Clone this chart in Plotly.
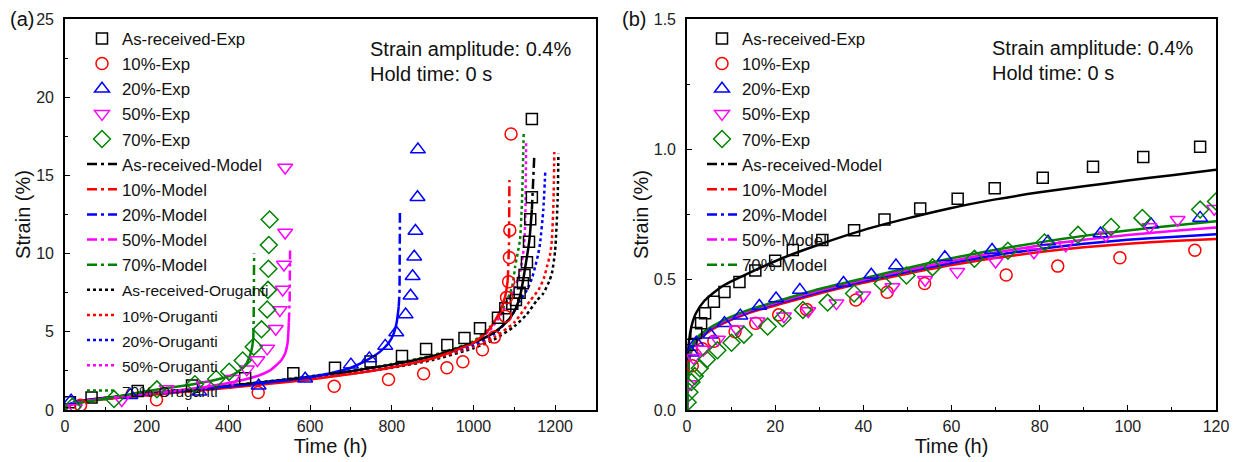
import plotly.graph_objects as go

# ---------------- Panel (a) data: Time (h) vs Strain (%) ----------------
# Experimental points
a_ar_exp_x = [12, 65, 178, 311, 441, 559, 661, 748, 825, 884, 936, 978, 1016, 1060, 1078, 1095, 1104, 1113, 1121, 1125, 1131, 1136, 1139, 1143, 1143]
a_ar_exp_y = [0.5, 0.8, 1.22, 1.56, 2.03, 2.35, 2.7, 3.1, 3.45, 3.9, 4.16, 4.6, 5.22, 5.9, 6.5, 6.8, 7.03, 7.5, 8.1, 8.63, 9.44, 10.76, 12.19, 13.6, 18.6]
a_10_exp_x = [38, 224, 473, 659, 792, 878, 935, 974, 1022, 1051, 1078, 1081, 1086, 1088, 1089, 1092]
a_10_exp_y = [0.3, 0.66, 1.12, 1.52, 1.95, 2.32, 2.7, 3.08, 3.85, 4.66, 6.0, 7.2, 8.2, 9.75, 11.5, 17.65]
a_20_exp_x = [15, 160, 329, 474, 588, 700, 745, 784, 811, 834, 846, 851, 855, 858, 863, 864]
a_20_exp_y = [0.6, 0.95, 1.16, 1.55, 2.0, 2.9, 3.3, 4.1, 4.95, 6.1, 7.3, 8.55, 9.8, 11.45, 13.6, 16.65]
a_50_exp_x = [24, 139, 249, 340, 410, 445, 471, 495, 516, 526, 533, 536, 539, 539]
a_50_exp_y = [0.12, 0.64, 1.35, 1.6, 2.0, 2.6, 3.2, 3.94, 5.2, 6.4, 7.7, 9.3, 11.35, 15.5]
a_70_exp_x = [18, 120, 225, 318, 370, 402, 435, 462, 481, 495, 497, 498, 499, 501]
a_70_exp_y = [0.2, 0.7, 1.32, 1.65, 1.98, 2.45, 3.17, 4.05, 5.16, 6.43, 7.68, 9.03, 10.55, 12.18]

# Model curves (body + vertical tail)
a_ar_mod_x = [0, 5, 20, 50, 100, 200, 300, 400, 500, 600, 700, 800, 900, 1000, 1050, 1080, 1100, 1115, 1127, 1137, 1143]
a_ar_mod_y = [0, 0.25, 0.45, 0.62, 0.78, 1.05, 1.3, 1.55, 1.82, 2.12, 2.48, 2.9, 3.45, 4.3, 4.95, 5.6, 6.3, 7.4, 9.16, 10.9, 12.8]
a_ar_tail_x = [1143, 1147, 1149]
a_ar_tail_y = [12.8, 14.7, 16.3]
a_10_mod_x = [0, 5, 20, 50, 100, 200, 300, 400, 500, 600, 700, 800, 900, 1000, 1040, 1065, 1078, 1084]
a_10_mod_y = [0, 0.2, 0.38, 0.55, 0.7, 0.95, 1.18, 1.42, 1.68, 1.95, 2.3, 2.72, 3.3, 4.3, 5.2, 6.3, 7.3, 8.3]
a_10_tail_x = [1084, 1087, 1088]
a_10_tail_y = [8.3, 10.5, 14.7]
a_20_mod_x = [0, 5, 20, 50, 100, 200, 300, 400, 500, 600, 650, 700, 740, 770, 792, 805, 812, 817]
a_20_mod_y = [0, 0.28, 0.45, 0.6, 0.75, 1.0, 1.25, 1.5, 1.78, 2.1, 2.35, 2.7, 3.2, 3.7, 4.26, 4.9, 5.6, 6.6]
a_20_tail_x = [817, 819, 820]
a_20_tail_y = [6.6, 7.5, 12.6]
a_50_mod_x = [0, 5, 20, 50, 100, 200, 300, 350, 400, 440, 478, 500, 518, 530, 539, 545, 548]
a_50_mod_y = [0, 0.25, 0.42, 0.58, 0.74, 1.02, 1.32, 1.5, 1.72, 1.95, 2.24, 2.5, 2.88, 3.2, 3.62, 4.3, 5.6]
a_50_tail_x = [548, 550, 551]
a_50_tail_y = [5.6, 7.0, 10.2]
a_70_mod_x = [0, 5, 20, 69, 120, 192, 250, 314, 350, 380, 410, 429, 445, 453, 458, 461]
a_70_mod_y = [0, 0.25, 0.4, 0.6, 0.82, 1.17, 1.4, 1.65, 1.82, 2.0, 2.25, 2.56, 3.0, 3.5, 4.0, 4.6]
a_70_tail_x = [461, 462, 463]
a_70_tail_y = [4.6, 6.0, 10.0]

# Oruganti curves
a_ar_oru_x = [0, 5, 20, 50, 100, 200, 300, 400, 500, 600, 700, 800, 900, 1000, 1050, 1100, 1130, 1155, 1171, 1185, 1192, 1200, 1206, 1208]
a_ar_oru_y = [0, 0.22, 0.4, 0.56, 0.72, 0.97, 1.2, 1.45, 1.72, 2.0, 2.32, 2.7, 3.2, 3.95, 4.5, 5.35, 6.1, 7.0, 7.46, 8.2, 8.74, 10.2, 13.4, 16.4]
a_10_oru_x = [0, 5, 20, 50, 100, 200, 300, 400, 500, 600, 700, 800, 900, 1000, 1050, 1100, 1139, 1159, 1172, 1180, 1188, 1192, 1196, 1198]
a_10_oru_y = [0, 0.2, 0.38, 0.54, 0.7, 0.95, 1.19, 1.45, 1.72, 2.02, 2.36, 2.76, 3.28, 4.05, 4.65, 5.6, 7.0, 7.67, 8.4, 9.16, 10.0, 10.87, 13.4, 16.5]
a_20_oru_x = [0, 5, 20, 50, 100, 200, 300, 400, 500, 600, 700, 800, 900, 1000, 1050, 1090, 1114, 1131, 1143, 1151, 1158, 1163, 1171, 1176]
a_20_oru_y = [0, 0.24, 0.42, 0.58, 0.74, 1.0, 1.24, 1.5, 1.78, 2.08, 2.42, 2.82, 3.36, 4.15, 4.85, 5.9, 7.0, 7.67, 8.4, 9.16, 9.9, 10.66, 12.8, 15.35]
a_50_oru_x = [0, 5, 20, 50, 100, 200, 300, 400, 500, 600, 700, 800, 900, 1000, 1040, 1065, 1086, 1102, 1112, 1118, 1124, 1127, 1129]
a_50_oru_y = [0, 0.25, 0.43, 0.6, 0.76, 1.02, 1.27, 1.53, 1.82, 2.12, 2.47, 2.88, 3.42, 4.3, 5.1, 6.0, 7.0, 7.9, 8.6, 9.4, 10.5, 12.5, 17.2]
a_70_oru_x = [0, 5, 20, 50, 100, 200, 300, 400, 500, 600, 700, 800, 900, 1000, 1040, 1065, 1082, 1095, 1102, 1108, 1114, 1119, 1123]
a_70_oru_y = [0, 0.26, 0.44, 0.61, 0.78, 1.05, 1.3, 1.56, 1.85, 2.16, 2.52, 2.94, 3.5, 4.4, 5.3, 6.2, 7.0, 7.9, 9.16, 10.0, 10.9, 13.5, 17.7]

# ---------------- Panel (b) data: first 120 h ----------------
b_ar_exp_x = [1.0, 2.1, 3.2, 4.1, 6.1, 8.5, 11.9, 15.5, 20.0, 24.0, 30.7, 37.9, 44.8, 52.9, 61.4, 69.8, 80.7, 92.1, 103.5, 116.4]
b_ar_exp_y = [0.25, 0.295, 0.333, 0.371, 0.415, 0.453, 0.491, 0.535, 0.573, 0.614, 0.652, 0.69, 0.731, 0.773, 0.81, 0.851, 0.891, 0.933, 0.971, 1.01]
b_10_exp_x = [1.2, 3.5, 6.1, 10.9, 15.6, 20.8, 27.1, 38.3, 45.4, 53.9, 72.4, 84.1, 98.2, 115.2]
b_10_exp_y = [0.17, 0.235, 0.264, 0.3, 0.333, 0.365, 0.386, 0.422, 0.452, 0.485, 0.518, 0.552, 0.584, 0.613]
b_20_exp_x = [1.0, 2.1, 5.3, 8.5, 12.1, 16.4, 20.2, 25.6, 35.5, 41.8, 47.4, 58.5, 69.2, 81.9, 93.8, 105.3, 116.4]
b_20_exp_y = [0.22, 0.258, 0.289, 0.333, 0.362, 0.399, 0.428, 0.46, 0.487, 0.519, 0.554, 0.586, 0.614, 0.646, 0.677, 0.712, 0.737]
b_50_exp_x = [0.5, 1.5, 3.7, 7.0, 11.3, 16.0, 22.0, 27.5, 33.9, 40.0, 46.6, 54.0, 61.3, 70.0, 78.7, 85.9, 95.0, 104.9, 111.3, 119.6]
b_50_exp_y = [0.1, 0.2, 0.232, 0.27, 0.31, 0.34, 0.36, 0.38, 0.41, 0.44, 0.472, 0.5, 0.53, 0.57, 0.605, 0.632, 0.67, 0.702, 0.73, 0.772]
b_70_exp_x = [0.15, 0.55, 1.0, 1.75, 2.9, 4.5, 6.9, 10.1, 12.9, 18.3, 21.7, 26.3, 31.9, 37.9, 44.4, 49.8, 55.7, 65.2, 72.8, 81.1, 88.7, 96.2, 103.3, 116.4, 120.0]
b_70_exp_y = [0.03, 0.068, 0.107, 0.13, 0.16, 0.194, 0.229, 0.258, 0.289, 0.32, 0.352, 0.384, 0.412, 0.447, 0.485, 0.516, 0.548, 0.58, 0.611, 0.643, 0.672, 0.702, 0.737, 0.769, 0.8]

b_mod_x = [0, 0.2, 0.5, 1, 2, 4, 8, 14, 22, 30, 40, 50, 60, 70, 80, 90, 100, 110, 120]
b_ar_mod_y = [0, 0.2, 0.27, 0.32, 0.37, 0.42, 0.475, 0.525, 0.585, 0.635, 0.69, 0.735, 0.775, 0.808, 0.835, 0.858, 0.88, 0.901, 0.922]
b_10_mod_y = [0, 0.12, 0.19, 0.225, 0.26, 0.29, 0.33, 0.372, 0.41, 0.447, 0.488, 0.523, 0.556, 0.583, 0.606, 0.624, 0.638, 0.648, 0.656]
b_20_mod_y = [0, 0.12, 0.2, 0.232, 0.266, 0.296, 0.335, 0.376, 0.416, 0.453, 0.494, 0.53, 0.564, 0.594, 0.618, 0.638, 0.653, 0.664, 0.674]
b_50_mod_y = [0, 0.12, 0.2, 0.235, 0.27, 0.3, 0.338, 0.38, 0.42, 0.458, 0.5, 0.537, 0.572, 0.604, 0.631, 0.653, 0.671, 0.687, 0.70]
b_70_mod_y = [0, 0.12, 0.2, 0.237, 0.272, 0.302, 0.342, 0.384, 0.425, 0.464, 0.505, 0.545, 0.582, 0.615, 0.643, 0.668, 0.689, 0.707, 0.724]

names = ["As-received", "10%", "20%", "50%", "70%"]
colors = ["#000000", "#ff0000", "#0000ff", "#ff00ff", "#008000"]
symbols = ["square-open", "circle-open", "triangle-up-open", "triangle-down-open", "diamond-open"]
msizes = [11, 12, 13, 13, 13]

FONT = "Arial, Liberation Sans, sans-serif"
DASHDOT = "10px,4px,3px,4px"
LW = 2.5
W, H = 1239, 462
OFF = 8  # the page body adds an 8 px margin around the figure


def px_x(v):
    return (v - OFF) / W


def px_y(v):
    return 1 - (v - OFF) / H


fig = go.Figure()

a_exp = [(a_ar_exp_x, a_ar_exp_y), (a_10_exp_x, a_10_exp_y), (a_20_exp_x, a_20_exp_y),
         (a_50_exp_x, a_50_exp_y), (a_70_exp_x, a_70_exp_y)]
a_mod = [(a_ar_mod_x, a_ar_mod_y, a_ar_tail_x, a_ar_tail_y), (a_10_mod_x, a_10_mod_y, a_10_tail_x, a_10_tail_y),
         (a_20_mod_x, a_20_mod_y, a_20_tail_x, a_20_tail_y), (a_50_mod_x, a_50_mod_y, a_50_tail_x, a_50_tail_y),
         (a_70_mod_x, a_70_mod_y, a_70_tail_x, a_70_tail_y)]
a_oru = [(a_ar_oru_x, a_ar_oru_y), (a_10_oru_x, a_10_oru_y), (a_20_oru_x, a_20_oru_y),
         (a_50_oru_x, a_50_oru_y), (a_70_oru_x, a_70_oru_y)]

# ---- Panel (a) traces ----
for i, (x, y) in enumerate(a_oru):
    fig.add_trace(go.Scatter(x=x, y=y, mode="lines", line=dict(color=colors[i], width=LW, dash="dot", shape="spline", smoothing=0.6),
                             name="<span style='font-size:15.5px'>" + names[i] + "-Oruganti</span>",
                             legend="legend", legendgroup="aO" + str(i), legendrank=300 + i,
                             xaxis="x", yaxis="y"))
for i, (x, y, tx, ty) in enumerate(a_mod):
    fig.add_trace(go.Scatter(x=x, y=y, mode="lines", line=dict(color=colors[i], width=LW, shape="spline", smoothing=0.6),
                             showlegend=False, legend="legend", legendgroup="aM" + str(i), legendrank=200 + i,
                             xaxis="x", yaxis="y"))
    fig.add_trace(go.Scatter(x=tx, y=ty, mode="lines", line=dict(color=colors[i], width=LW, dash=DASHDOT),
                             name=names[i] + "-Model", legend="legend", legendgroup="aM" + str(i), legendrank=200 + i,
                             xaxis="x", yaxis="y"))
for i, (x, y) in enumerate(a_exp):
    fig.add_trace(go.Scatter(x=x, y=y, mode="markers",
                             marker=dict(symbol=symbols[i], size=msizes[i], color=colors[i], line=dict(width=1.5, color=colors[i])),
                             name=names[i] + "-Exp", legend="legend", legendgroup="aE" + str(i), legendrank=100 + i,
                             xaxis="x", yaxis="y"))

# ---- Panel (b) traces ----
b_exp = [(b_ar_exp_x, b_ar_exp_y), (b_10_exp_x, b_10_exp_y), (b_20_exp_x, b_20_exp_y),
         (b_50_exp_x, b_50_exp_y), (b_70_exp_x, b_70_exp_y)]
b_mod = [b_ar_mod_y, b_10_mod_y, b_20_mod_y, b_50_mod_y, b_70_mod_y]

for i, y in enumerate(b_mod):
    fig.add_trace(go.Scatter(x=b_mod_x, y=y, mode="lines", line=dict(color=colors[i], width=LW, shape="spline", smoothing=0.6),
                             showlegend=False, legend="legend2", legendgroup="bM" + str(i), legendrank=200 + i,
                             xaxis="x2", yaxis="y2"))
    # legend key (dash-dot sample) for the model curve
    fig.add_trace(go.Scatter(x=[None], y=[None], mode="lines", line=dict(color=colors[i], width=LW, dash=DASHDOT),
                             name=names[i] + "-Model", legend="legend2", legendgroup="bM" + str(i), legendrank=200 + i,
                             xaxis="x2", yaxis="y2"))
for i, (x, y) in enumerate(b_exp):
    fig.add_trace(go.Scatter(x=x, y=y, mode="markers",
                             marker=dict(symbol=symbols[i], size=msizes[i], color=colors[i], line=dict(width=1.5, color=colors[i])),
                             name=names[i] + "-Exp", legend="legend2", legendgroup="bE" + str(i), legendrank=100 + i,
                             xaxis="x2", yaxis="y2"))

tickfont = dict(family=FONT, size=16, color="#222222")
titlefont = dict(family=FONT, size=20, color="#111111")


def xax(domain, rng, dtick, mdtick, anchor):
    return dict(domain=domain, range=rng, dtick=dtick, tick0=0, anchor=anchor,
                showline=True, linecolor="black", linewidth=1.6, mirror=True,
                ticks="inside", ticklen=5, tickwidth=1.4, tickcolor="black",
                minor=dict(dtick=mdtick, ticks="inside", ticklen=3, tickwidth=1.2, tickcolor="black"),
                showgrid=False, zeroline=False, tickfont=tickfont, automargin=False,
                ticklabelstandoff=1, ticklabeloverflow="allow",
                title=dict(text="Time (h)", font=titlefont, standoff=0))


def yax(domain, rng, dtick, mdtick, anchor, fmt):
    return dict(domain=domain, range=rng, dtick=dtick, tick0=0, anchor=anchor, tickformat=fmt,
                showline=True, linecolor="black", linewidth=1.6, mirror=True,
                ticks="inside", ticklen=5, tickwidth=1.4, tickcolor="black",
                minor=dict(dtick=mdtick, ticks="inside", ticklen=3, tickwidth=1.2, tickcolor="black"),
                showgrid=False, zeroline=False, tickfont=tickfont, automargin=False,
                ticklabelstandoff=6, ticklabeloverflow="allow",
                title=dict(text="Strain (%)", font=titlefont, standoff=0))


ydom = [px_y(410), px_y(19)]
legfont = dict(family=FONT, size=16.8, color="#111111")
annfont = dict(family=FONT, size=20, color="#111111")

fig.update_layout(
    width=W, height=H,
    margin=dict(l=0, r=0, t=0, b=0),
    paper_bgcolor="white", plot_bgcolor="white",
    font=dict(family=FONT),
    xaxis=xax([px_x(65), px_x(596)], [0, 1300], 200, 100, "y"),
    yaxis=yax(ydom, [0, 25], 5, 2.5, "x", ""),
    xaxis2=xax([px_x(687), px_x(1216)], [0, 120], 20, 10, "y2"),
    yaxis2=yax(ydom, [0, 1.5], 0.5, 0.25, "x2", ".1f"),
    legend=dict(x=74 / W, y=1 - 13 / H, xanchor="left", yanchor="top", font=legfont,
                bgcolor="rgba(0,0,0,0)", tracegroupgap=0.3, traceorder="grouped"),
    legend2=dict(x=694 / W, y=1 - 13 / H, xanchor="left", yanchor="top", font=legfont,
                 bgcolor="rgba(0,0,0,0)", tracegroupgap=0.3, traceorder="grouped"),
    showlegend=True,
    annotations=[
        dict(text="(a)", x=0, y=1 - 11 / H, xref="paper", yref="paper", xanchor="left", yanchor="middle",
             showarrow=False, font=annfont),
        dict(text="(b)", x=612 / W, y=1 - 11 / H, xref="paper", yref="paper", xanchor="left", yanchor="middle",
             showarrow=False, font=annfont),
        dict(text="Strain amplitude: 0.4%", x=360 / W, y=1 - 41 / H, xref="paper", yref="paper", xanchor="left",
             yanchor="middle", showarrow=False, font=annfont),
        dict(text="Hold time: 0 s", x=360 / W, y=1 - 66 / H, xref="paper", yref="paper", xanchor="left",
             yanchor="middle", showarrow=False, font=annfont),
        dict(text="Strain amplitude: 0.4%", x=982 / W, y=1 - 40 / H, xref="paper", yref="paper", xanchor="left",
             yanchor="middle", showarrow=False, font=annfont),
        dict(text="Hold time: 0 s", x=982 / W, y=1 - 65 / H, xref="paper", yref="paper", xanchor="left",
             yanchor="middle", showarrow=False, font=annfont),
    ],
)

fig.write_html("out.html")
